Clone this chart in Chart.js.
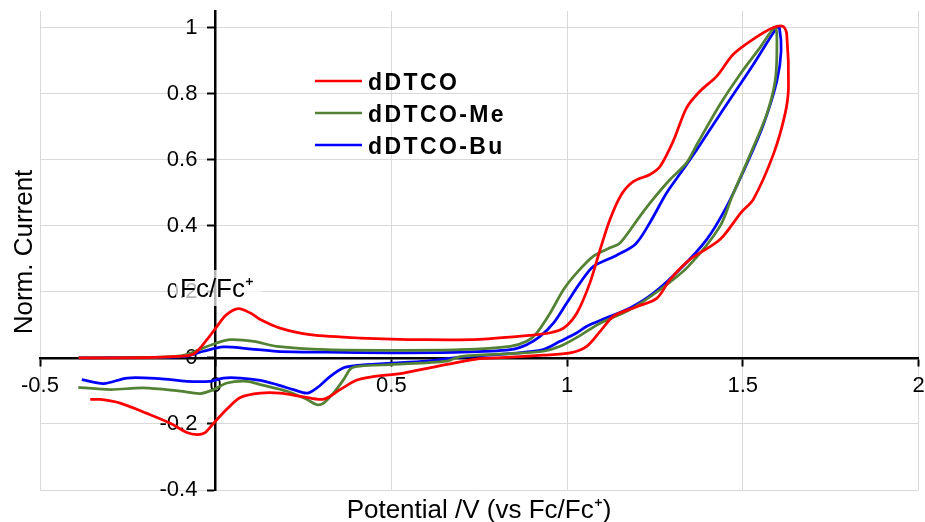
<!DOCTYPE html>
<html>
<head>
<meta charset="utf-8">
<script src="https://cdn.jsdelivr.net/npm/chart.js@4/dist/chart.umd.min.js"></script>
<style>
  html, body { margin: 0; padding: 0; background: #fff; }
  canvas { display: block; }
</style>
</head>
<body>
<canvas id="cv" width="925" height="522"></canvas>
<script>
// Cyclic voltammograms, normalised current vs potential (V vs Fc/Fc+).
// Each loop runs: forward scan from the left, turns at ~1.6 V, returns.
const seriesNames = ['dDTCO', 'dDTCO-Me', 'dDTCO-Bu'];
const seriesColors = ['#ff0000', '#548235', '#0000ff'];

const xTicks = [-0.5, 0, 0.5, 1, 1.5, 2];
const yTicks = [-0.4, -0.2, 0, 0.2, 0.4, 0.6, 0.8, 1];

const redE = [-0.39, -0.2, -0.12, -0.063, -0.025, 0.0, 0.03, 0.065, 0.1, 0.127, 0.183, 0.269, 0.411, 0.6, 0.75,
  0.895, 0.952, 0.99, 1.028, 1.065, 1.094, 1.122, 1.155, 1.189, 1.236, 1.265, 1.302, 1.34, 1.378, 1.426, 1.473,
  1.53, 1.587, 1.615, 1.625, 1.63, 1.62, 1.587, 1.53, 1.495, 1.435, 1.35, 1.293, 1.255, 1.198, 1.132, 1.094,
  1.056, 1.009, 0.932, 0.8, 0.75, 0.658, 0.534, 0.44, 0.40, 0.354, 0.307, 0.25, 0.183, 0.127, 0.07, 0.032,
  -0.006, -0.03, -0.053, -0.082, -0.129, -0.196, -0.272, -0.329, -0.357];
const redI = [0, 0.001, 0.004, 0.012, 0.055, 0.09, 0.13, 0.149, 0.135, 0.116, 0.09, 0.07, 0.06, 0.055, 0.056,
  0.068, 0.076, 0.09, 0.136, 0.227, 0.328, 0.419, 0.495, 0.534, 0.555, 0.58, 0.656, 0.757, 0.807, 0.853, 0.919,
  0.965, 1.0, 1.003, 0.98, 0.818, 0.737, 0.616, 0.48, 0.44, 0.358, 0.298, 0.237, 0.18, 0.155, 0.126, 0.08,
  0.035, 0.015, 0.008, 0.0, -0.002, -0.02, -0.046, -0.058, -0.068, -0.096, -0.125, -0.118, -0.107, -0.107, -0.12, -0.155,
  -0.198, -0.226, -0.232, -0.226, -0.198, -0.168, -0.137, -0.126, -0.126];

const greenE = [-0.39, -0.2, -0.12, -0.082, -0.035, 0.003, 0.041, 0.108, 0.174, 0.316, 0.506, 0.696, 0.838,
  0.885, 0.914, 0.952, 0.99, 1.028, 1.075, 1.122, 1.151, 1.208, 1.246, 1.293, 1.34, 1.369, 1.435, 1.492, 1.549,
  1.592, 1.597, 1.592, 1.568, 1.52, 1.47, 1.435, 1.345, 1.265, 1.179, 1.094, 1.028, 0.98, 0.932, 0.838, 0.696,
  0.658, 0.506, 0.411, 0.385, 0.364, 0.335, 0.307, 0.288, 0.26, 0.203, 0.127, 0.089, 0.032, -0.006, -0.044,
  -0.101, -0.205, -0.3, -0.391];
const greenI = [0, 0.001, 0.004, 0.01, 0.03, 0.045, 0.055, 0.05, 0.035, 0.025, 0.023, 0.025, 0.035,
  0.05, 0.076, 0.136, 0.207, 0.258, 0.308, 0.333, 0.348, 0.43, 0.482, 0.54, 0.59, 0.645, 0.767, 0.858, 0.939,
  1.0, 0.939, 0.838, 0.737, 0.613, 0.49, 0.398, 0.277, 0.207, 0.146, 0.105, 0.062, 0.035, 0.02, 0.013, 0.004,
  -0.01, -0.02, -0.025, -0.032, -0.066, -0.107, -0.137, -0.142, -0.126, -0.101, -0.081, -0.071, -0.076, -0.096, -0.108,
  -0.101, -0.091, -0.096, -0.089];

const blueE = [-0.39, -0.2, -0.12, -0.082, -0.035, 0.022, 0.089, 0.174, 0.316, 0.506, 0.696, 0.838, 0.885,
  0.923, 0.961, 0.999, 1.037, 1.075, 1.14, 1.195, 1.236, 1.283, 1.33, 1.369, 1.435, 1.53, 1.597, 1.604, 1.609,
  1.597, 1.559, 1.511, 1.454, 1.397, 1.321, 1.246, 1.179, 1.112, 1.055, 1.028, 0.98, 0.932, 0.838, 0.696, 0.6,
  0.487, 0.402, 0.364, 0.326, 0.288, 0.26, 0.221, 0.174, 0.127, 0.07, 0.022, -0.016, -0.082, -0.16, -0.252,
  -0.319, -0.381];
const blueI = [0, 0.001, 0.002, 0.005, 0.02, 0.033, 0.028, 0.02, 0.017, 0.015, 0.017, 0.025, 0.04,
  0.065, 0.105, 0.166, 0.227, 0.277, 0.31, 0.345, 0.41, 0.499, 0.57, 0.63, 0.737, 0.888, 1.0, 1.0, 0.929,
  0.838, 0.707, 0.586, 0.458, 0.358, 0.268, 0.196, 0.151, 0.121, 0.095, 0.076, 0.05, 0.025, 0.013, 0.002, -0.01,
  -0.017, -0.023, -0.03, -0.056, -0.091, -0.107, -0.096, -0.081, -0.068, -0.061, -0.061, -0.071, -0.071, -0.063, -0.061,
  -0.078, -0.066];

const seriesE = [redE, greenE, blueE];
const seriesI = [redI, greenI, blueI];

const FONT = '"Liberation Sans", Arial, sans-serif';

// Legend, axis titles and the Fc/Fc+ label are drawn by hand (they sit inside the plot).
const overlay = {
  id: 'overlay',
  afterDraw(chart) {
    const ctx = chart.ctx;
    ctx.save();

    // legend
    ctx.font = 'bold 23px ' + FONT;
    ctx.letterSpacing = '2.4px';
    ctx.textAlign = 'left';
    ctx.textBaseline = 'alphabetic';
    seriesNames.forEach((name, i) => {
      const y = 81 + i * 32;
      ctx.strokeStyle = seriesColors[i];
      ctx.lineWidth = 2.5;
      ctx.beginPath();
      ctx.moveTo(315, y);
      ctx.lineTo(362, y);
      ctx.stroke();
      ctx.fillStyle = '#000';
      ctx.fillText(name, 368, y + 8.5);
    });
    ctx.letterSpacing = '0px';

    // Fc/Fc+ marker label, semi-opaque box over the 0.2 tick
    ctx.fillStyle = 'rgba(255,255,255,0.7)';
    ctx.fillRect(176, 270, 86, 36);
    ctx.fillStyle = '#000';
    ctx.font = '26px ' + FONT;
    ctx.fillText('Fc/Fc\u207A', 180, 297);

    // axis titles
    ctx.font = '26px ' + FONT;
    ctx.textAlign = 'center';
    ctx.fillText('Potential /V (vs Fc/Fc\u207A)', 479, 518);
    ctx.translate(32, 252);
    ctx.rotate(-Math.PI / 2);
    ctx.fillText('Norm. Current', 0, 0);
    ctx.restore();
  }
};

// keep edge tick labels from pushing the plot area inwards
function noEdgePadding(s) {
  s.paddingLeft = 0; s.paddingRight = 0; s.paddingTop = 0; s.paddingBottom = 0;
}

new Chart(document.getElementById('cv'), {
  type: 'scatter',
  data: {
    datasets: seriesNames.map((name, i) => ({
      label: name,
      data: seriesE[i].map((e, j) => ({ x: e, y: seriesI[i][j] })),
      showLine: true,
      borderColor: seriesColors[i],
      backgroundColor: seriesColors[i],
      borderWidth: 2.75,
      pointRadius: 0,
      tension: 0.3,
      fill: false,
    })),
  },
  options: {
    responsive: false,
    animation: false,
    layout: { padding: { left: 40, top: 11, right: 6.5, bottom: 32 } },
    plugins: { legend: { display: false }, tooltip: { enabled: false } },
    scales: {
      x: {
        type: 'linear',
        position: { y: 0 },
        min: -0.5,
        max: 2,
        afterBuildTicks: (s) => { s.ticks = xTicks.map((v) => ({ value: v })); },
        afterFit: noEdgePadding,
        grid: { color: '#d9d9d9', lineWidth: 1, tickLength: 7, tickColor: '#000', tickWidth: 2 },
        border: { color: '#000', width: 2.5 },
        ticks: { font: { family: FONT, size: 22 }, color: '#000', padding: 8, maxRotation: 0,
          callback: (v) => String(v) },
      },
      y: {
        type: 'linear',
        position: { x: 0 },
        min: -0.4,
        max: 1.05,
        afterBuildTicks: (s) => { s.ticks = yTicks.map((v) => ({ value: v })); },
        afterFit: noEdgePadding,
        grid: { color: '#d9d9d9', lineWidth: 1, tickLength: 7, tickColor: '#000', tickWidth: 2 },
        border: { color: '#000', width: 2.5 },
        // labels sit right-aligned on the axis line here, so pad them with spaces
        ticks: { font: { family: FONT, size: 22 }, color: '#000',
          callback: (v) => String(Math.round(v * 10) / 10) + '\u00A0\u00A0\u00A0' },
      },
    },
  },
  plugins: [overlay],
});
</script>
</body>
</html>
